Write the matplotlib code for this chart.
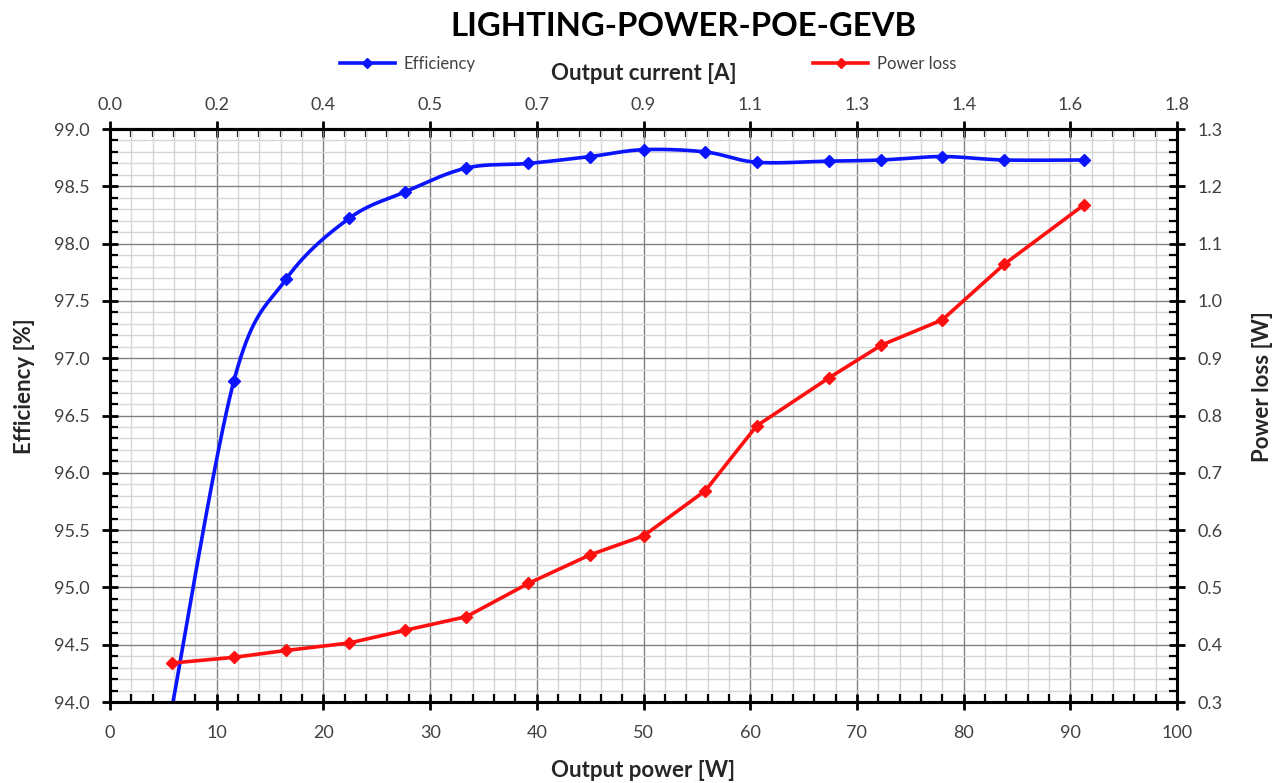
import numpy as np
import matplotlib.pyplot as plt
from matplotlib.ticker import MultipleLocator, FormatStrFormatter, FixedLocator
from matplotlib.lines import Line2D

plt.rcParams['font.family'] = ['Lato', 'DejaVu Sans']

# data
output_power = [5.8, 11.6, 16.5, 22.4, 27.6, 33.4, 39.2, 45.0, 50.0,
                55.8, 60.6, 67.4, 72.3, 78.0, 83.8, 91.3]
efficiency = [93.95, 96.80, 97.69, 98.22, 98.45, 98.66, 98.70, 98.76, 98.82,
              98.80, 98.71, 98.72, 98.73, 98.76, 98.73, 98.73]
power_loss = [0.368, 0.378, 0.390, 0.403, 0.425, 0.449, 0.507, 0.557, 0.590,
              0.669, 0.782, 0.866, 0.923, 0.967, 1.064, 1.168]

# top axis: 0 .. 1.8 A over the 0 .. 100 W range, labels rounded to 0.1
current_ticks = [0.0, 0.18, 0.36, 0.54, 0.72, 0.9, 1.08, 1.26, 1.44, 1.62, 1.8]
amps_per_watt = 1.8 / 100.0
label_col = '#404040'


def smooth_curve(x, y, n=40):
    # Catmull-Rom, close to Excel's "smoothed line"
    pts = np.column_stack([x, y])
    p = np.vstack([pts[0], pts, pts[-1]])
    t = np.linspace(0, 1, n, endpoint=False)[:, None]
    segs = []
    for i in range(1, len(p) - 2):
        p0, p1, p2, p3 = p[i - 1], p[i], p[i + 1], p[i + 2]
        segs.append(0.5 * (2 * p1 + (-p0 + p2) * t
                           + (2 * p0 - 5 * p1 + 4 * p2 - p3) * t ** 2
                           + (-p0 + 3 * p1 - 3 * p2 + p3) * t ** 3))
    segs.append(pts[-1:])
    c = np.vstack(segs)
    return c[:, 0], c[:, 1]


fig = plt.figure(figsize=(12.78, 7.83), dpi=100)
ax = fig.add_axes([0.0861, 0.1034, 0.8349, 0.7318])
ax2 = ax.twinx()

ax.set_xlim(0, 100)
ax.set_ylim(94.0, 99.0)
ax2.set_ylim(0.3, 1.3)

ax.xaxis.set_major_locator(MultipleLocator(10))
ax.xaxis.set_minor_locator(MultipleLocator(2))
ax.yaxis.set_major_locator(MultipleLocator(0.5))
ax.yaxis.set_minor_locator(MultipleLocator(0.1))
ax.yaxis.set_major_formatter(FormatStrFormatter('%.1f'))
ax2.yaxis.set_major_locator(MultipleLocator(0.1))
ax2.yaxis.set_minor_locator(MultipleLocator(0.02))
ax2.yaxis.set_major_formatter(FormatStrFormatter('%.1f'))

ax.set_axisbelow(True)
ax.grid(which='minor', color='#d6d6d6', lw=1.0)
ax.grid(which='major', color='#808080', lw=1.0)

top = ax.secondary_xaxis('top', functions=(lambda p: p * amps_per_watt,
                                           lambda a: a / amps_per_watt))
top.xaxis.set_major_locator(FixedLocator(current_ticks))
top.xaxis.set_minor_locator(FixedLocator(np.arange(51) * 0.036))
top.xaxis.set_major_formatter(FormatStrFormatter('%.1f'))

for a in (ax, ax2, top):
    for s in a.spines.values():
        s.set_linewidth(2.2)
        s.set_color('black')
    a.tick_params(which='major', direction='inout', length=11, width=2,
                  labelsize=13, labelcolor=label_col, color='black', pad=9)
    a.tick_params(which='minor', direction='in', length=6, width=1.6, color='black')
ax.tick_params(axis='x', which='both', top=False)
ax.tick_params(axis='x', which='major', pad=11)
top.tick_params(axis='x', which='major', pad=6)

sx, sy = smooth_curve(output_power, efficiency)
ax.plot(sx, sy, color='#0a14ff', lw=2.6, zorder=3)
ax.plot(output_power, efficiency, ls='none', marker='D', ms=6,
        color='#0a14ff', zorder=4)
ax2.plot(output_power, power_loss, color='#ff1010', lw=2.6, marker='D', ms=6,
         zorder=3)

bold = dict(fontsize=16, fontweight='bold', color='#262626')
ax.set_xlabel('Output power [W]', labelpad=14, **bold)
top.set_xlabel('Output current [A]', labelpad=12, **bold)
ax.set_ylabel('Efficiency [%]', **bold)
ax2.set_ylabel('Power loss [W]', rotation=90, **bold)
ax.yaxis.set_label_coords(-0.070, 0.551)
ax2.yaxis.set_label_coords(1.070, 0.551)

fig.suptitle('LIGHTING-POWER-POE-GEVB', x=0.535, y=0.985, fontsize=23.7,
             fontweight='bold', color='black')

handles = [Line2D([], [], color='#0a14ff', lw=2.6, marker='D', ms=5),
           Line2D([], [], color='#ff1010', lw=2.6, marker='D', ms=5)]
fig.legend(handles, ['Efficiency', 'Power loss'], loc='center',
           bbox_to_anchor=(0.507, 0.918), ncol=2, frameon=False,
           fontsize=12, labelcolor=label_col, columnspacing=20.3,
           handlelength=3.3, handletextpad=0.5)

fig.savefig('out.png', dpi=100)
